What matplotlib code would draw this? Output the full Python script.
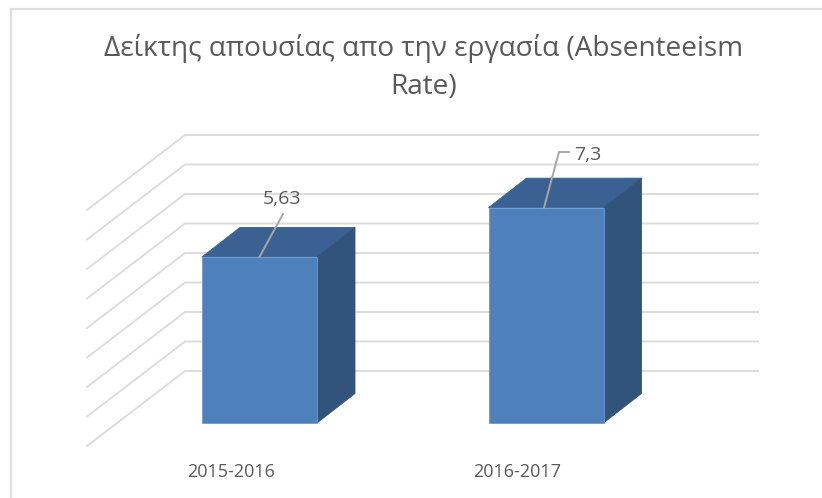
import matplotlib
matplotlib.use("Agg")
import matplotlib.pyplot as plt
from matplotlib.patches import Polygon

categories = ["2015-2016", "2016-2017"]
values = [5.63, 7.3]
value_labels = ["5,63", "7,3"]
grid_values = [0, 1, 2, 3, 4, 5, 6, 7, 8]
title_text = "Δείκτης απουσίας απο την εργασία (Absenteeism\nRate)"

W, H = 822, 498
PX_PER_CAT, CAT0_PX = 286.5, 259.5
PX_PER_UNIT, BASE_PX = 29.5, 423.0
BOX_L, BOX_T = 11, 9

TEXT = "#595959"
GRID = "#dcdcdc"
FRONT, TOP, SIDE = "#4e80bc", "#3a6191", "#32547c"

fig = plt.figure(figsize=(W / 100, H / 100), dpi=100, facecolor="white")
ax = fig.add_axes([BOX_L / W, 0, (W - BOX_L) / W, (H - BOX_T) / H])


def X(px):
    return (px - CAT0_PX) / PX_PER_CAT


def Y(px):
    return (BASE_PX - px) / PX_PER_UNIT


ax.set_xlim(X(BOX_L), X(W))
ax.set_ylim(Y(H), Y(BOX_T))
ax.set_xticks([])
ax.set_yticks([])
for side in ("right", "bottom"):
    ax.spines[side].set_visible(False)
for side in ("top", "left"):
    ax.spines[side].set_color("#dedede")
    ax.spines[side].set_linewidth(1.6)

# back wall and floor perspective gridlines
wall_dy = 52 / PX_PER_UNIT
front_dy = -23 / PX_PER_UNIT
wall_x0, wall_x1, front_x = X(185), X(758), X(87)
for g in grid_values:
    ax.plot([front_x, wall_x0, wall_x1],
            [g + front_dy, g + wall_dy, g + wall_dy],
            color=GRID, lw=1.4, solid_joinstyle="miter", zorder=1)

# 3D bars
half_w = 57.5 / PX_PER_CAT
depth_x = 38 / PX_PER_CAT
depth_y = 29.5 / PX_PER_UNIT
for i, v in enumerate(values):
    l, r = i - half_w, i + half_w
    ax.add_patch(Polygon([(l, v), (r, v), (r + depth_x, v + depth_y), (l + depth_x, v + depth_y)],
                         closed=True, fc=TOP, ec=TOP, lw=0.6, zorder=3))
    ax.add_patch(Polygon([(r, 0), (r + depth_x, depth_y), (r + depth_x, v + depth_y), (r, v)],
                         closed=True, fc=SIDE, ec=SIDE, lw=0.6, zorder=3))
    ax.add_patch(Polygon([(l, 0), (r, 0), (r, v), (l, v)],
                         closed=True, fc=FRONT, ec="#6f9ad0", lw=0.6, zorder=4))

# leader lines and data labels
ax.plot([0, X(283)], [values[0], Y(214)], color="#a6a6a6", lw=1.4, zorder=5)
ax.plot([X(544), X(559), X(569)], [values[1], Y(152), Y(152)],
        color="#a6a6a6", lw=1.4, solid_joinstyle="miter", zorder=5)
ax.text(X(282), Y(199), value_labels[0], ha="center", va="center",
        color=TEXT, fontsize=14, family="Open Sans", zorder=6)
ax.text(X(588), Y(155), value_labels[1], ha="center", va="center",
        color=TEXT, fontsize=14, family="Open Sans", zorder=6)

# category labels
for i, c in enumerate(categories):
    ax.text(i + X(231), Y(472), c, ha="center", va="center",
            color=TEXT, fontsize=13, family="Open Sans")

# title
ax.text(X(424), Y(67.5), title_text, ha="center", va="center", color=TEXT,
        fontsize=20.2, family="Open Sans", linespacing=1.44, multialignment="center")

fig.savefig("out.png", dpi=100, facecolor="white")
